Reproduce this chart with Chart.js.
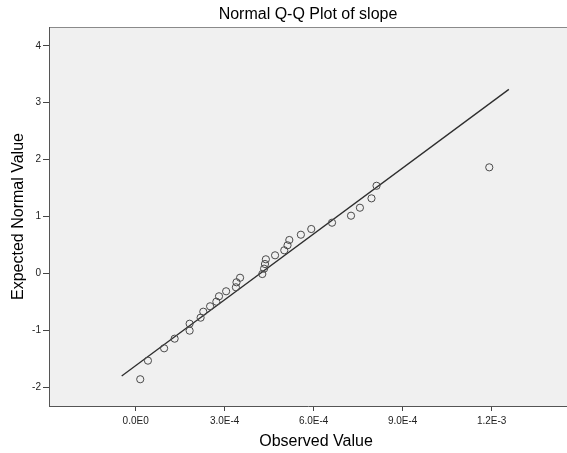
<!DOCTYPE html>
<html>
<head>
    <title>Normal Q-Q Plot of slope</title>
    <script src="https://cdn.jsdelivr.net/npm/chart.js@4.4.0/dist/chart.umd.min.js"></script>
    <style>
        html, body {
            margin: 0;
            padding: 0;
            background: #fff;
        }

        #qqContainer {
            position: relative;
            width: 567px;
            height: 453px;
        }
    </style>
</head>
<body>
    <div id="qqContainer">
        <canvas id="qqChart"></canvas>
    </div>

    <script>
        const observed = [
            1.55e-5, 4.15e-5, 9.6e-5, 1.315e-4, 1.82e-4, 1.82e-4, 2.19e-4, 2.28e-4,
            2.51e-4, 2.72e-4, 2.81e-4, 3.05e-4, 3.38e-4, 3.40e-4, 3.52e-4, 4.27e-4,
            4.33e-4, 4.36e-4, 4.39e-4, 4.70e-4, 5.01e-4, 5.12e-4, 5.18e-4, 5.57e-4,
            5.92e-4, 6.62e-4, 7.26e-4, 7.56e-4, 7.95e-4, 8.12e-4, 1.192e-3
        ];
        const expected = [
            -1.86, -1.533, -1.316, -1.147, -1.006, -0.884, -0.778, -0.673,
            -0.578, -0.497, -0.402, -0.314, -0.244, -0.156, -0.076, -0.011,
            0.083, 0.165, 0.248, 0.318, 0.406, 0.494, 0.587, 0.68,
            0.78, 0.891, 1.014, 1.154, 1.319, 1.54, 1.864
        ];

        // reference line end points
        const lineX = [-4.7e-5, 1.258e-3];
        const lineY = [-1.802, 3.234];

        const xTickValues = [0, 3e-4, 6e-4, 9e-4, 1.2e-3];
        const xTickLabels = ['0.0E0', '3.0E-4', '6.0E-4', '9.0E-4', '1.2E-3'];
        const yTickValues = [-2, -1, 0, 1, 2, 3, 4];
        const yTickLabels = ['-2', '-1', '0', '1', '2', '3', '4'];

        const xRange = [-2.92e-4, 1.454e-3];
        const yRange = [-2.33, 4.33];

        const plotBackground = {
            id: 'plotBackground',
            beforeDraw(chart) {
                const {ctx, chartArea: a} = chart;
                ctx.save();
                ctx.fillStyle = '#f0f0f0';
                ctx.fillRect(a.left, a.top, a.right - a.left, a.bottom - a.top);
                ctx.strokeStyle = '#8a8a8a';
                ctx.lineWidth = 1;
                ctx.beginPath();
                ctx.moveTo(a.left, a.top + 0.5);
                ctx.lineTo(a.right, a.top + 0.5);
                ctx.stroke();
                ctx.restore();
            },
            afterDraw(chart) {
                // x axis title, SPSS puts it a little right of centre
                const ctx = chart.ctx;
                ctx.save();
                ctx.fillStyle = '#000';
                ctx.font = '16px "Liberation Sans", Arial, sans-serif';
                ctx.textAlign = 'center';
                ctx.textBaseline = 'middle';
                ctx.fillText('Observed Value', 316, 442);
                ctx.restore();
            }
        };

        const ctx = document.getElementById('qqChart').getContext('2d');
        const qqChart = new Chart(ctx, {
            type: 'scatter',
            data: {
                datasets: [
                    {
                        label: 'slope',
                        data: observed.map((v, i) => ({x: v, y: expected[i]})),
                        pointStyle: 'circle',
                        pointRadius: 3.6,
                        pointBorderWidth: 1,
                        pointBorderColor: '#4a4a4a',
                        pointBackgroundColor: 'rgba(0,0,0,0)',
                        order: 1
                    },
                    {
                        label: 'line',
                        data: lineX.map((v, i) => ({x: v, y: lineY[i]})),
                        showLine: true,
                        borderColor: '#2e2e2e',
                        borderWidth: 1.3,
                        pointRadius: 0,
                        order: 2
                    }
                ]
            },
            options: {
                responsive: true,
                maintainAspectRatio: false,
                animation: false,
                layout: {padding: 0, autoPadding: false},
                plugins: {
                    legend: {display: false},
                    tooltip: {enabled: false},
                    title: {
                        display: true,
                        text: 'Normal Q-Q Plot of slope',
                        color: '#000',
                        fullSize: false,
                        font: {family: '"Liberation Sans", Arial, sans-serif', size: 16, weight: 'normal'},
                        padding: {top: 5, bottom: 2.8}
                    }
                },
                scales: {
                    x: {
                        type: 'linear',
                        min: xRange[0],
                        max: xRange[1],
                        afterBuildTicks: scale => {
                            scale.ticks = xTickValues.map(v => ({value: v}));
                        },
                        afterFit: scale => {
                            scale.height = 47;
                            scale.paddingLeft = 0;
                            scale.paddingRight = 0;
                        },
                        ticks: {
                            color: '#222',
                            font: {family: '"Liberation Sans", Arial, sans-serif', size: 10},
                            padding: 4,
                            maxRotation: 0,
                            autoSkip: false,
                            callback: (value, index) => xTickLabels[index]
                        },
                        grid: {
                            drawOnChartArea: false,
                            drawTicks: true,
                            tickLength: 5,
                            color: '#444'
                        },
                        border: {display: true, color: '#555', width: 1}
                    },
                    y: {
                        type: 'linear',
                        min: yRange[0],
                        max: yRange[1],
                        afterBuildTicks: scale => {
                            scale.ticks = yTickValues.map(v => ({value: v}));
                        },
                        afterFit: scale => {
                            scale.width = 49;
                            scale.paddingTop = 0;
                            scale.paddingBottom = 0;
                        },
                        ticks: {
                            color: '#222',
                            font: {family: '"Liberation Sans", Arial, sans-serif', size: 10},
                            padding: 2,
                            autoSkip: false,
                            callback: (value, index) => yTickLabels[index]
                        },
                        grid: {
                            drawOnChartArea: false,
                            drawTicks: true,
                            tickLength: 6,
                            color: '#444'
                        },
                        border: {display: true, color: '#555', width: 1},
                        title: {
                            display: true,
                            text: 'Expected Normal Value',
                            color: '#000',
                            font: {family: '"Liberation Sans", Arial, sans-serif', size: 16},
                            padding: {top: 9, bottom: 0}
                        }
                    }
                }
            },
            plugins: [plotBackground]
        });
    </script>
</body>
</html>
